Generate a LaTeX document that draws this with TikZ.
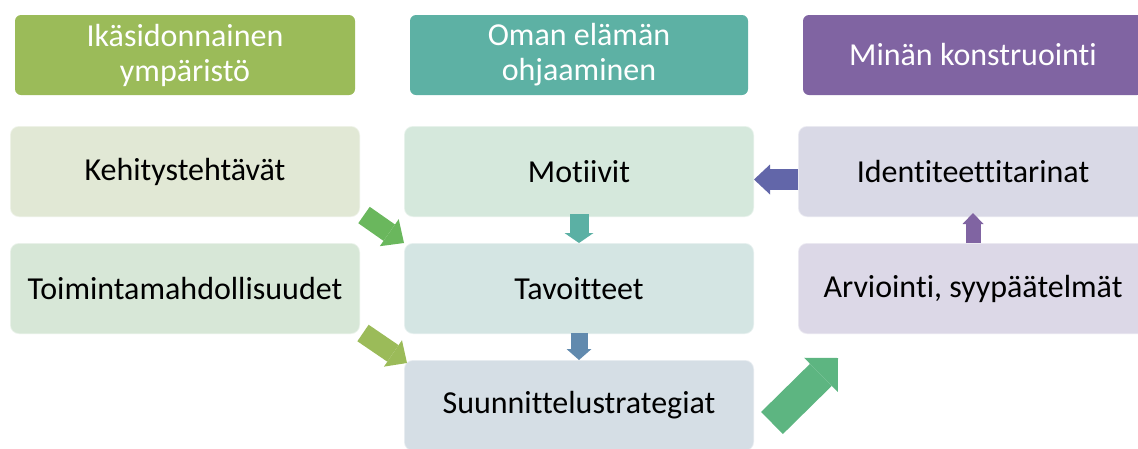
\documentclass[tikz,border=0pt]{standalone}
\usepackage{fontspec}
\setmainfont{Carlito}[Ligatures=NoCommon]
\usetikzlibrary{positioning, calc, arrows.meta}

\definecolor{hdrgreen}{HTML}{9BBB59}
\definecolor{hdrteal}{HTML}{5DB1A4}
\definecolor{hdrpurple}{HTML}{8064A2}
\definecolor{kehfill}{HTML}{E1E8D5}
\definecolor{toimfill}{HTML}{D7E7D7}
\definecolor{motfill}{HTML}{D5E8DC}
\definecolor{tavfill}{HTML}{D4E5E3}
\definecolor{suufill}{HTML}{D5DEE5}
\definecolor{idfill}{HTML}{D9D9E6}
\definecolor{arvfill}{HTML}{DCD8E7}
\definecolor{arrgreen}{HTML}{6AB75D}
\definecolor{arrolive}{HTML}{9BBB59}
\definecolor{arrteal}{HTML}{5BB0A4}
\definecolor{arrblue}{HTML}{618AAE}
\definecolor{arrindigo}{HTML}{6266A9}
\definecolor{arrpurple}{HTML}{8064A2}
\definecolor{arrjade}{HTML}{5DB581}

\begin{document}
\begin{tikzpicture}[x=1pt, y=-1pt, every node/.style={font=\fontsize{32}{35}\selectfont, align=center, inner sep=0pt, outer sep=0pt},
  header/.style={rectangle, rounded corners=6pt, text=white, minimum width=340pt, minimum height=80pt},
  card/.style={rectangle, rounded corners=9pt, draw=white, draw opacity=0.45, line width=1.5pt, minimum width=350pt, minimum height=91pt},
  blockarrow/.style n args={3}{line width=#1, -{Triangle[width=#2, length=#3, line width=0pt]}}]
\clip (0,0) rectangle (1138,448);

% boxes
\node (kehitys) [card, fill=kehfill] at (185,171.5) {Kehitystehtävät};
\node (toiminta) [card, fill=toimfill, below=26pt of kehitys] {Toimintamahdollisuudet};
\node (motiivit) [card, fill=motfill, right=44pt of kehitys] {Motiivit};
\node (tavoitteet) [card, fill=tavfill, below=26pt of motiivit] {Tavoitteet};
\node (suunnittelu) [card, fill=suufill, below=26pt of tavoitteet] {Suunnittelustrategiat};
\node (identiteetti) [card, fill=idfill, right=44pt of motiivit] {Identiteettitarinat};
\node (arviointi) [card, fill=arvfill, below=26pt of identiteetti] {Arviointi, syypäätelmät};

% headers
\node (ympHdr) [header, fill=hdrgreen, above=31pt of kehitys] {Ikäsidonnainen\\ympäristö};
\node (ohjHdr) [header, fill=hdrteal, minimum width=338pt, above=31pt of motiivit] {Oman elämän\\ohjaaminen};
\node (minHdr) [header, fill=hdrpurple, above=31pt of identiteetti] {Minän konstruointi};

% arrows
\draw[arrgreen, blockarrow={20pt}{33pt}{18pt}] ($(kehitys.south east)+(4,-2)$) -- (tavoitteet.north west);
\draw[arrolive, blockarrow={20pt}{32pt}{17pt}] ($(toiminta.south east)+(3,-1)$) -- ($(suunnittelu.north west)+(3,3)$);
\draw[arrteal, blockarrow={19pt}{29pt}{10pt}] ($(motiivit.south)+(0,-3)$) -- (tavoitteet.north);
\draw[arrblue, blockarrow={17pt}{25pt}{11pt}] ($(tavoitteet.south)+(0,-1)$) -- (suunnittelu.north);
\draw[arrindigo, blockarrow={21pt}{30pt}{16pt}] ($(identiteetti.west)+(0,8)$) -- ($(motiivit.east)+(0,8)$);
\draw[arrpurple, blockarrow={15pt}{21pt}{11pt}] (arviointi.north) -- ($(identiteetti.south)+(0,-4)$);
\draw[arrjade, blockarrow={31pt}{48pt}{24pt}] ($(suunnittelu.south east)+(18,-28)$) -- ($(arviointi.south west)+(40,24)$);
\end{tikzpicture}
\end{document}
